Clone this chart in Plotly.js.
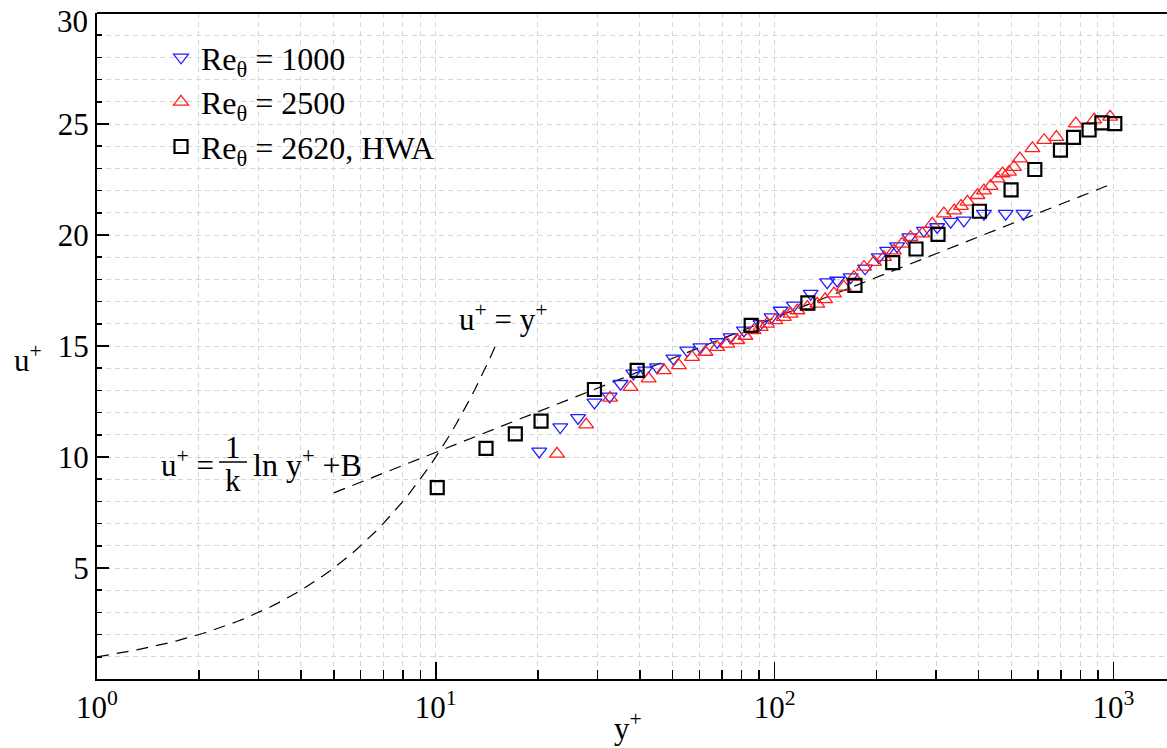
<!DOCTYPE html>
<html><head><meta charset="utf-8">
<script src="https://cdn.plot.ly/plotly-3.0.1.min.js"></script>
<style>html,body{margin:0;padding:0;background:#fff}</style>
</head><body><div id="chart" style="width:1167px;height:748px"></div>
<script>
// Re_theta = 1000 (blue, down triangles)
const re1000Y = [20.2, 23.3, 26.3, 29.4, 32.6, 35.1, 38.3, 41.5, 45.0, 50.3, 55.2, 60.4, 67.7, 74.1, 81.2, 90.9, 98.0, 104.2, 114, 127.8, 143, 153, 167.7, 185, 203, 215, 230, 250, 276, 302, 331, 362, 415, 481, 543];
const re1000U = [10.25, 11.35, 11.76, 12.46, 12.73, 13.3, 13.77, 13.9, 14.05, 14.44, 14.8, 14.95, 15.18, 15.4, 15.7, 16.0, 16.3, 16.6, 16.83, 17.36, 17.88, 17.95, 18.1, 18.5, 19.0, 19.3, 19.5, 19.9, 20.2, 20.36, 20.6, 20.66, 20.96, 20.96, 20.96];
// Re_theta = 2500 (red, up triangles)
const re2500Y = [22.8, 27.8, 32.7, 37.6, 42.5, 47.1, 52.2, 57.1, 62.5, 67.7, 72.5, 77.6, 82.0, 86.7, 91.0, 95.1, 100.5, 106.5, 111.5, 116.7, 125, 133.7, 141, 149.7, 160.2, 171.5, 183.6, 196.5, 210.4, 225, 238, 252, 273, 292, 316, 339, 355, 371, 397, 415, 434, 455, 471, 492, 509, 529.5, 577, 625, 679, 775, 878, 978];
const re2500U = [10.14, 11.46, 12.66, 13.15, 13.53, 13.9, 14.13, 14.5, 14.73, 14.95, 15.1, 15.26, 15.45, 15.7, 15.85, 16.0, 16.15, 16.3, 16.45, 16.6, 16.75, 16.9, 17.1, 17.36, 17.66, 18.1, 18.56, 18.78, 19.0, 19.3, 19.6, 19.9, 20.06, 20.5, 20.96, 21.1, 21.3, 21.49, 21.79, 22.0, 22.2, 22.54, 22.77, 22.84, 23.06, 23.44, 23.9, 24.27, 24.41, 25.02, 25.2, 25.32];
// Re_theta = 2620, HWA (black squares)
const hwaY = [10.1, 14.07, 17.17, 20.45, 29.4, 39.3, 85.3, 125.4, 172.7, 223.2, 261.5, 303.7, 402.4, 499, 586.4, 698, 763, 848, 925, 1010];
const hwaU = [8.62, 10.39, 11.04, 11.62, 13.04, 13.9, 15.93, 16.94, 17.73, 18.76, 19.37, 20.03, 21.07, 22.03, 22.95, 23.82, 24.4, 24.73, 25.05, 25.02];
// theory lines
const kappa = 0.38, B = 4.15;
const viscousRange = [1, 15];
const logLawRange = [5, 1000];
const xTickVals = [1, 10, 100, 1000];
const xTickText = ['10<sup>0</sup>', '10<sup>1</sup>', '10<sup>2</sup>', '10<sup>3</sup>'];
const yTickVals = [5, 10, 15, 20, 25];
const yTopLabel = '30';
const seriesNames = ['Re<sub>θ</sub> = 1000', 'Re<sub>θ</sub> = 2500', 'Re<sub>θ</sub> = 2620, HWA'];

// viscous sublayer curve u+ = y+
const visX = [], visU = [];
for (let i = 0; i <= 60; i++) {
  const v = Math.pow(10, Math.log10(viscousRange[0]) + i / 60 * (Math.log10(viscousRange[1]) - Math.log10(viscousRange[0])));
  visX.push(v); visU.push(v);
}
const logX = logLawRange.slice();
const logU = logX.map(v => Math.log(v) / kappa + B);

const FONT = 'Liberation Serif';
const gridCol = '#d6d6d6';
const GD = '5px,4px';

const traces = [
  {x: visX, y: visU, mode: 'lines', line: {color: '#000', width: 1.2, dash: '12px,8px'}, showlegend: false, hoverinfo: 'skip'},
  {x: logX, y: logU, mode: 'lines', line: {color: '#000', width: 1.2, dash: '12px,8px'}, showlegend: false, hoverinfo: 'skip'},
  {x: re1000Y, y: re1000U, mode: 'markers', name: seriesNames[0],
   marker: {symbol: 'triangle-down-open', size: 13, color: 'rgb(30,30,255)', line: {width: 1.3}}},
  {x: re2500Y, y: re2500U, mode: 'markers', name: seriesNames[1],
   marker: {symbol: 'triangle-up-open', size: 13, color: 'rgb(255,30,30)', line: {width: 1.3}}},
  {x: hwaY, y: hwaU, mode: 'markers', name: seriesNames[2],
   marker: {symbol: 'square-open', size: 13, color: '#000', line: {width: 2.2}}}
];

const L = 97, T = 13, W = 1070, H = 666;
const px = X => (X - L) / W;
const py = Y => (T + H - Y) / H;
const F = 31;

const layout = {
  width: 1167, height: 748,
  margin: {l: L, r: 0, t: T, b: 748 - T - H},
  paper_bgcolor: '#fff', plot_bgcolor: '#fff',
  font: {family: FONT, color: '#000', size: F},
  showlegend: true,
  legend: {x: px(161), y: py(30), xanchor: 'left', yanchor: 'top', bgcolor: 'rgba(0,0,0,0)',
           font: {family: FONT, size: 32, color: '#000'}, tracegroupgap: 0, itemwidth: 30},
  xaxis: {
    type: 'log', range: [0, Math.log10(1440)],
    tickmode: 'array', tickvals: xTickVals, ticktext: xTickText,
    ticks: 'inside', ticklen: 17, tickwidth: 1.5, tickcolor: '#000',
    showline: true, linewidth: 2, linecolor: '#000', mirror: false,
    showgrid: true, gridcolor: gridCol, griddash: GD, gridwidth: 1, zeroline: false,
    tickfont: {family: FONT, size: F, color: '#000'},
    minor: {tickmode: 'array', tickvals: [2,3,4,5,6,7,8,9,20,30,40,50,60,70,80,90,200,300,400,500,600,700,800,900],
            ticks: 'inside', ticklen: 9, tickwidth: 1.5, tickcolor: '#000', showgrid: true, gridcolor: gridCol, griddash: GD, gridwidth: 1}
  },
  yaxis: {
    range: [0, 30], tickmode: 'array', tickvals: yTickVals,
    ticks: 'inside', ticklen: 12, tickwidth: 1.5, tickcolor: '#000',
    showline: true, linewidth: 2, linecolor: '#000', mirror: false,
    showgrid: true, gridcolor: gridCol, griddash: GD, gridwidth: 1, zeroline: false,
    tickfont: {family: FONT, size: F, color: '#000'},
    minor: {dtick: 1, ticks: 'inside', ticklen: 5, tickwidth: 1.5, tickcolor: '#000', showgrid: true, gridcolor: gridCol, griddash: GD, gridwidth: 1}
  },
  shapes: [
    {type: 'line', xref: 'paper', yref: 'paper', x0: 0, x1: 1, y0: 1, y1: 1, line: {color: '#000', width: 2}},
    {type: 'line', xref: 'paper', yref: 'paper', x0: px(219), x1: px(247), y0: py(462), y1: py(462), line: {color: '#000', width: 1.5}}
  ],
  annotations: [
    {xref: 'paper', yref: 'paper', x: px(89), y: py(3), text: yTopLabel, showarrow: false, xanchor: 'right', yanchor: 'top', borderpad: 0, font: {family: FONT, size: F}},
    {xref: 'paper', yref: 'paper', x: px(28), y: py(358), text: 'u<sup>+</sup>', showarrow: false, xanchor: 'center', yanchor: 'middle', font: {family: FONT, size: F}},
    {xref: 'paper', yref: 'paper', x: px(628), y: py(726), text: 'y<sup>+</sup>', showarrow: false, xanchor: 'center', yanchor: 'middle', font: {family: FONT, size: F}},
    {xref: 'paper', yref: 'paper', x: px(503), y: py(318), text: 'u<sup>+</sup> = y<sup>+</sup>', showarrow: false, xanchor: 'center', yanchor: 'middle', font: {family: FONT, size: F}},
    {xref: 'paper', yref: 'paper', x: px(216), y: py(463), text: 'u<sup>+</sup> =', showarrow: false, xanchor: 'right', yanchor: 'middle', font: {family: FONT, size: F}},
    {xref: 'paper', yref: 'paper', x: px(233), y: py(447), text: '1', showarrow: false, xanchor: 'center', yanchor: 'middle', font: {family: FONT, size: F}},
    {xref: 'paper', yref: 'paper', x: px(233), y: py(481), text: 'k', showarrow: false, xanchor: 'center', yanchor: 'middle', font: {family: FONT, size: F}},
    {xref: 'paper', yref: 'paper', x: px(251), y: py(463), text: 'ln y<sup>+</sup> +B', showarrow: false, xanchor: 'left', yanchor: 'middle', font: {family: FONT, size: 32}}
  ]
};

Plotly.newPlot('chart', traces, layout, {staticPlot: true, displayModeBar: false});
</script>
</body></html>
